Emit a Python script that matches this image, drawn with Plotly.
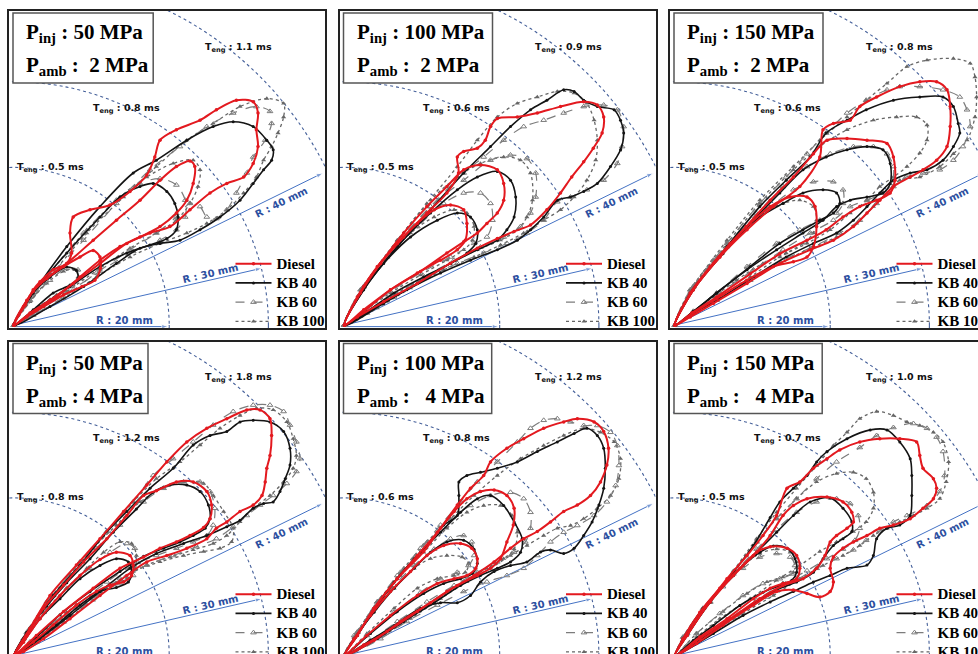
import plotly.graph_objects as go

# ---------------- data (mm, nozzle at origin) ----------------
FUELS = ["Diesel", "KB 40", "KB 60", "KB 100"]
P_INJ = [50, 100, 150, 50, 100, 150]
P_AMB = [2, 2, 2, 4, 4, 4]
T_ENG = [[0.5, 0.8, 1.1], [0.5, 0.6, 0.9], [0.5, 0.6, 0.8],
         [0.8, 1.2, 1.8], [0.6, 0.8, 1.2], [0.5, 0.7, 1.0]]
R_MM = [20, 30, 40]

P1_DIESEL = [
    [[0,0],[1.2,2.3],[2.4,4.2],[4.1,5.8],[6.2,7.3],[8.25,8.5],[9.9,9.3],[10.75,8.5],[10.8,7.1],[10.1,5.6],[8.5,4.8],[6.2,3.75],[3.7,2.3],[1.6,1.0]],
    [[0,0],[1.6,3.1],[3.25,5.2],[6.6,7.7],[9.9,10.6],[12.8,13.1],[15.75,15.6],[18.25,18.1],[20.3,19.8],[22.0,20.5],[22.6,19.8],[22.4,17.7],[21.6,15.6],[20.3,14.0],[18.25,12.3],[15.75,11.0],[13.25,9.8],[10.75,8.1],[8.25,6.0],[5.3,3.5],[2.4,1.7]],
    [[0,0],[1.4,2.5],[2.4,4.4],[3.25,5.4],[4.9,6.9],[6.6,7.7],[7.2,9.0],[7.0,11.5],[7.4,13.5],[9.5,14.4],[12.0,15.0],[14.5,16.7],[16.6,18.75],[17.6,21.0],[18.25,23.1],[20.3,24.4],[23.25,25.6],[25.3,26.9],[27.8,28.1],[29.9,27.9],[30.5,26.5],[30.3,24.4],[30.5,22.3],[29.9,20.2],[28.7,18.5],[26.6,17.7],[24.5,16.5],[22.0,14.4],[19.5,12.3],[17.0,11.5],[14.1,10.2],[10.75,7.7],[7.4,5.2],[4.5,3.1],[2.0,1.5]],
]
P1_KB40 = [
    [[0,0],[2.0,3.6],[4.5,6.0],[6.6,7.25],[7.8,6.8],[8.0,5.8],[7.0,5.0],[4.9,4.0],[2.4,1.9]],
    [[0,0],[2.4,4.0],[6.6,9.0],[10.75,13.5],[13.25,16.0],[15.75,17.3],[17.4,17.7],[19.1,16.7],[20.1,15.2],[20.5,13.5],[20.3,11.9],[19.1,10.8],[17.0,10.0],[14.1,9.0],[10.75,7.3],[7.0,4.8],[3.25,2.3]],
    [[0,0],[3.25,5.2],[6.6,9.8],[10.75,14.8],[14.9,19.0],[17.8,20.6],[21.6,23.1],[24.9,24.8],[27.4,25.4],[29.9,24.8],[31.6,23.1],[32.4,21.9],[32.2,20.6],[31.2,19.4],[29.9,17.7],[28.25,15.6],[25.75,13.5],[23.25,11.9],[20.75,10.6],[18.25,10.2],[15.75,9.6],[12.8,7.7],[8.7,4.8],[4.5,2.3]],
]
P1_KB60 = [
    [[0,0],[2.0,3.1],[4.5,5.6],[6.6,7.1],[8.0,6.9],[8.25,5.8],[7.2,4.8],[4.5,3.1],[2.2,1.5]],
    [[0,0],[4.1,6.0],[8.7,11.5],[12.8,15.6],[15.75,17.7],[18.25,18.3],[20.3,17.5],[21.4,15.6],[21.4,13.5],[20.3,11.9],[18.25,10.6],[14.9,9.2],[10.75,6.7],[6.6,4.0],[2.8,1.7]],
    [[0,0],[3.7,5.2],[8.7,10.6],[12.8,15.2],[17.0,19.4],[20.75,22.3],[24.1,24.8],[27.4,26.5],[30.3,27.3],[32.0,26.7],[32.2,25.2],[31.4,23.1],[29.9,21.0],[29.1,19.0],[27.8,16.5],[26.6,14.4],[25.3,13.3],[24.1,13.5],[23.25,14.8],[22.0,15.2],[20.3,13.5],[17.8,11.5],[14.5,9.4],[10.3,6.5],[6.2,3.5],[2.4,1.25]],
]
P1_KB100 = [
    [[0,0],[2.0,2.9],[4.1,5.2],[6.2,6.7],[7.6,6.9],[8.0,6.0],[7.4,5.0],[5.3,3.75],[2.8,2.1]],
    [[0,0],[4.5,6.5],[9.1,11.9],[13.25,16.0],[16.6,18.5],[19.9,20.2],[22.4,20.6],[23.25,19.4],[23.0,17.3],[22.0,15.2],[20.3,13.1],[17.8,11.5],[14.5,9.6],[10.75,7.1],[6.6,4.2],[2.8,1.7]],
    [[0,0],[4.5,6.0],[9.1,11.5],[13.7,16.0],[17.8,19.8],[21.6,23.1],[24.9,25.2],[28.25,27.3],[31.6,28.3],[33.7,27.7],[33.7,26.0],[33.0,24.0],[32.2,22.3],[31.2,20.6],[30.3,18.5],[28.7,16.5],[26.6,14.4],[24.1,12.7],[21.6,11.5],[18.25,10.2],[14.5,8.5],[10.3,6.0],[6.2,3.3],[2.4,1.25]],
]

P2_DIESEL = [
    [[0,0],[1.6,3.5],[4.1,7.3],[6.6,10.2],[9.1,12.7],[11.2,14.4],[13.25,15.0],[14.9,14.4],[15.3,12.7],[15.1,10.6],[14.1,9.4],[12.0,8.1],[9.1,6.5],[5.75,4.4],[2.4,1.7]],
    [[0,0],[2.0,4.0],[4.5,7.7],[7.4,11.5],[10.3,14.8],[12.8,17.3],[14.9,19.4],[17.0,20.0],[19.1,19.4],[19.9,17.7],[19.9,15.6],[19.1,14.0],[17.8,12.7],[16.6,11.5],[14.9,10.4],[12.8,9.0],[9.5,6.7],[5.75,4.4],[2.4,1.9]],
    [[0,0],[2.4,4.8],[4.5,7.7],[7.4,11.0],[10.3,14.0],[12.8,16.5],[14.25,19.0],[14.1,21.0],[14.9,21.7],[16.6,22.1],[17.6,23.1],[18.25,24.8],[19.1,25.8],[21.6,26.0],[24.1,26.5],[27.0,27.3],[29.9,27.9],[31.6,27.5],[32.4,26.0],[32.2,24.0],[31.1,22.1],[29.9,20.4],[28.4,18.5],[27.0,16.5],[25.3,14.4],[23.25,12.5],[21.2,11.7],[19.1,10.8],[16.6,9.6],[13.2,7.7],[9.1,5.2],[4.9,2.9],[1.6,1.0]],
]
P2_KB40 = [
    [[0,0],[2.0,4.0],[4.9,7.7],[8.25,11.0],[11.6,13.1],[14.1,14.0],[15.75,13.5],[16.6,11.9],[16.4,10.2],[15.3,9.0],[13.25,7.7],[9.9,6.0],[6.2,4.0],[2.8,1.7]],
    [[0,0],[2.4,4.4],[6.6,9.8],[10.75,14.0],[14.1,16.9],[16.6,18.5],[19.1,19.2],[20.75,18.1],[21.4,16.0],[21.2,13.5],[20.3,11.9],[19.1,10.6],[16.6,9.4],[13.25,7.7],[9.1,5.2],[4.9,2.7]],
    [[0,0],[2.4,4.4],[6.6,9.8],[10.75,14.4],[14.9,19.0],[18.25,22.3],[20.75,24.8],[23.25,26.9],[25.3,28.1],[27.4,29.4],[28.7,29.2],[29.9,28.1],[31.6,27.3],[33.7,26.9],[34.5,25.6],[34.9,24.0],[34.5,21.9],[33.25,19.8],[31.6,17.7],[29.9,16.7],[28.25,16.0],[26.6,15.6],[24.9,13.5],[23.25,11.9],[21.6,10.6],[19.1,9.4],[15.75,8.1],[12.0,6.5],[7.8,4.4],[3.7,2.1]],
]
P2_KB60 = [
    [[0,0],[2.0,4.4],[5.3,8.5],[9.1,12.3],[12.4,15.2],[14.9,16.5],[17.0,16.5],[18.25,15.2],[18.5,13.1],[17.8,11.0],[16.2,10.2],[13.25,8.5],[9.5,6.5],[5.75,4.2],[2.4,1.7]],
    [[0,0],[2.4,4.8],[6.6,10.2],[10.75,14.8],[14.9,18.1],[18.25,20.6],[20.75,21.25],[22.8,20.8],[23.9,19.0],[23.9,16.0],[23.25,14.0],[22.0,12.3],[19.9,11.0],[17.0,9.75],[13.7,8.1],[10.0,6.0],[5.75,3.5],[2.4,1.5]],
    [[0,0],[2.4,4.8],[6.6,10.2],[10.75,14.8],[14.9,19.0],[17.4,21.0],[19.9,23.1],[22.4,24.8],[24.9,25.6],[27.4,26.5],[29.9,27.3],[32.4,27.5],[34.1,26.9],[34.9,24.8],[34.7,22.3],[34.1,20.2],[32.4,18.1],[30.3,16.9],[28.25,16.0],[26.6,15.4],[24.9,13.1],[22.8,11.5],[20.3,10.2],[17.4,9.0],[14.1,7.7],[10.3,6.0],[6.2,3.5],[2.8,1.5]],
]
P2_KB100 = [
    [[0,0],[2.0,4.4],[4.9,8.1],[8.25,11.5],[11.2,13.5],[13.7,14.4],[15.3,14.0],[16.2,12.3],[16.0,10.6],[14.9,9.4],[12.8,8.1],[9.5,6.25],[5.75,4.0],[2.4,1.7]],
    [[0,0],[2.4,4.8],[6.6,10.6],[10.75,15.6],[14.1,18.5],[17.0,20.2],[19.9,21.0],[22.0,20.6],[23.25,19.0],[23.5,15.6],[22.8,13.5],[21.6,11.9],[19.5,10.6],[16.6,9.4],[13.25,7.7],[9.5,5.6],[5.3,3.3],[2.4,1.5]],
    [[0,0],[2.4,4.8],[6.6,10.6],[10.3,15.2],[14.1,19.8],[16.6,23.1],[19.1,26.0],[21.6,27.7],[24.1,28.5],[26.6,29.2],[28.7,29.0],[30.3,27.7],[31.2,25.6],[31.6,23.1],[31.4,20.6],[30.3,18.1],[28.7,16.0],[27.0,14.4],[24.9,13.1],[22.4,11.5],[19.5,10.0],[16.2,8.5],[12.4,6.9],[8.25,4.6],[4.1,2.1]],
]

P3_DIESEL = [
    [[0,0],[1.9,4.0],[4.4,7.3],[6.9,10.2],[9.4,12.7],[11.9,14.8],[14.4,16.0],[16.5,16.0],[17.5,14.8],[17.7,12.3],[17.3,9.75],[16.5,8.5],[14.8,7.9],[12.3,7.3],[9.0,5.6],[5.2,3.3],[2.3,1.5]],
    [[0,0],[2.3,4.4],[5.6,8.5],[8.9,12.3],[11.9,15.6],[14.8,18.5],[17.3,21.4],[19.0,23.1],[21.5,23.3],[24.0,23.1],[26.5,22.7],[27.3,21.0],[27.5,18.1],[26.9,16.5],[25.2,15.6],[23.1,14.8],[21.0,13.5],[18.9,11.9],[16.5,10.6],[13.1,8.9],[9.4,6.4],[5.2,3.5],[2.1,1.5]],
    [[0,0],[2.3,4.4],[5.6,8.5],[9.0,11.9],[12.3,14.8],[15.6,17.3],[18.1,21.0],[18.5,24.4],[19.8,25.2],[21.9,25.6],[23.1,27.3],[25.2,28.5],[28.1,29.8],[30.6,30.4],[32.7,30.4],[34.0,29.4],[34.4,27.3],[34.4,24.8],[34.0,22.3],[32.7,20.6],[31.0,19.4],[29.4,18.5],[27.3,17.3],[25.6,15.6],[24.0,14.0],[22.3,12.3],[19.8,10.6],[16.9,9.4],[13.1,7.7],[9.0,5.2],[4.8,2.7],[1.9,1.0]],
]
P3_KB40 = [
    [[0,0],[1.9,4.0],[4.8,7.7],[7.7,11.0],[10.6,13.5],[13.5,15.2],[16.0,16.5],[18.5,16.9],[20.2,16.5],[20.6,15.2],[19.8,14.0],[18.1,13.1],[16.0,11.9],[13.1,10.2],[9.4,7.3],[5.2,4.0],[2.3,1.7]],
    [[0,0],[2.3,4.4],[6.0,8.9],[9.8,13.1],[13.1,16.5],[16.0,19.4],[18.9,21.0],[21.5,21.9],[24.0,22.3],[26.0,21.9],[26.9,20.2],[26.9,17.7],[26.0,16.5],[24.0,16.0],[21.9,15.6],[20.2,14.8],[18.5,13.1],[16.0,11.5],[12.7,9.4],[9.0,6.9],[5.2,4.0],[2.3,1.7]],
    [[0,0],[2.3,4.4],[6.5,9.8],[10.6,14.8],[13.9,18.1],[16.9,21.0],[18.9,24.0],[21.5,25.6],[23.9,26.9],[27.3,28.1],[30.6,28.5],[33.5,28.5],[34.8,27.3],[35.4,25.2],[35.6,24.0],[34.8,22.3],[33.5,20.6],[31.5,19.4],[29.4,19.0],[27.3,18.1],[25.6,16.5],[24.0,14.8],[22.3,13.1],[20.2,11.5],[17.3,10.2],[13.9,8.5],[9.8,6.0],[5.6,3.3],[2.3,1.5]],
]
P3_KB60 = [
    [[0,0],[1.9,4.4],[4.8,8.1],[8.1,11.5],[11.5,14.4],[14.8,16.9],[17.3,17.9],[19.8,17.9],[21.0,16.9],[21.0,15.2],[20.2,14.0],[18.1,13.1],[15.6,11.9],[12.7,10.2],[9.0,7.3],[5.2,4.0],[2.3,1.7]],
    [[0,0],[2.3,4.8],[6.5,9.8],[10.2,13.9],[13.5,17.3],[16.5,19.8],[19.4,21.4],[22.3,22.3],[24.8,22.3],[26.5,21.4],[27.3,19.8],[27.1,17.7],[26.0,16.5],[24.0,15.6],[21.9,14.8],[19.8,13.1],[16.9,11.5],[13.5,9.4],[9.8,6.9],[5.6,4.0],[2.3,1.7]],
    [[0,0],[2.3,4.8],[6.5,10.2],[10.6,15.2],[13.9,18.5],[16.5,21.4],[18.9,24.0],[21.5,26.5],[23.9,28.1],[26.5,29.4],[28.1,29.8],[30.6,29.8],[33.5,29.4],[35.6,28.5],[36.5,26.9],[36.9,24.8],[36.0,22.3],[34.8,20.6],[33.1,19.4],[31.0,19.0],[28.9,18.5],[27.3,17.3],[25.2,15.2],[23.1,13.1],[20.6,11.5],[17.3,9.8],[13.5,8.1],[9.4,5.6],[5.2,3.1],[2.3,1.5]],
]
P3_KB100 = [
    [[0,0],[1.9,4.4],[4.8,8.1],[8.1,11.5],[11.0,14.0],[13.5,15.2],[15.6,15.6],[17.3,14.8],[17.7,13.1],[17.3,11.5],[16.0,10.2],[13.9,9.0],[11.0,7.7],[7.7,5.6],[4.8,3.5],[2.3,1.7]],
    [[0,0],[2.3,4.8],[6.5,10.2],[10.6,15.2],[14.8,19.4],[18.1,22.3],[21.5,24.4],[24.8,25.6],[27.7,26.0],[30.2,26.0],[31.5,25.0],[31.5,23.1],[30.6,21.5],[29.0,19.8],[27.3,18.5],[25.6,17.3],[24.0,15.6],[21.9,14.0],[19.4,11.9],[16.5,10.2],[13.1,8.5],[9.4,6.0],[5.6,3.5],[2.3,1.5]],
    [[0,0],[2.3,4.8],[6.5,10.6],[10.6,15.6],[14.8,19.8],[18.1,23.1],[21.5,26.0],[23.9,28.1],[26.5,30.2],[29.0,32.3],[31.5,33.1],[34.8,33.3],[36.9,32.7],[37.5,31.0],[37.7,28.5],[37.5,26.0],[36.5,23.1],[34.8,21.4],[33.1,19.8],[30.6,18.5],[28.1,18.1],[26.5,16.5],[24.8,14.8],[22.7,12.7],[20.2,11.0],[16.9,9.6],[13.1,7.7],[9.0,5.4],[5.2,3.1],[2.3,1.5]],
]

P4_DIESEL = [
    [[0,0],[1.2,1.7],[3.25,4.6],[5.75,7.5],[8.25,10.0],[10.75,12.0],[12.8,12.9],[14.5,12.5],[14.9,11.3],[14.7,10.0],[13.7,9.2],[12.0,8.8],[10.3,8.0],[7.8,6.3],[4.9,3.8],[2.4,1.7]],
    [[0,0],[1.6,2.5],[3.7,5.9],[6.2,8.8],[8.7,11.7],[11.6,14.6],[14.1,17.5],[16.2,20.0],[17.8,20.6],[20.3,21.7],[22.4,21.7],[24.1,20.5],[24.7,18.8],[24.5,17.1],[23.7,16.0],[22.0,15.0],[20.3,14.2],[18.25,13.4],[16.2,12.3],[13.25,10.9],[9.9,8.4],[6.2,5.5],[2.8,2.5]],
    [[0,0],[2.0,3.4],[4.5,7.5],[7.8,11.3],[10.75,14.6],[13.7,18.0],[16.6,21.3],[19.1,24.2],[21.6,26.7],[24.1,28.4],[26.6,29.6],[29.1,30.7],[30.75,30.7],[32.0,29.6],[32.2,27.5],[32.0,25.0],[31.6,23.4],[31.4,21.7],[31.0,20.0],[29.9,18.8],[28.25,18.0],[26.6,16.7],[25.3,15.9],[24.1,14.6],[21.6,13.4],[19.1,12.5],[16.6,11.7],[14.1,10.0],[10.75,7.5],[7.0,4.6],[3.7,2.1],[1.2,0.5]],
]
P4_KB40 = [
    [[0,0],[1.2,1.7],[3.25,4.6],[5.75,7.1],[8.25,9.6],[10.75,11.25],[12.8,12.1],[14.3,11.7],[14.7,10.4],[14.3,9.2],[12.8,8.5],[10.75,8.0],[8.25,6.3],[5.3,3.8],[2.4,1.7]],
    [[0,0],[1.6,2.9],[4.1,6.2],[6.6,9.1],[9.5,12.1],[12.4,15.4],[15.3,18.3],[17.4,20.4],[19.5,21.3],[21.6,21.3],[23.25,20.5],[24.3,18.8],[24.5,17.1],[23.9,15.9],[22.4,15.0],[20.75,14.2],[18.7,13.4],[16.2,12.4],[13.25,10.5],[9.5,8.0],[5.75,5.1],[2.8,2.3]],
    [[0,0],[2.0,3.4],[4.9,7.5],[8.25,11.3],[11.2,15.0],[14.1,18.0],[17.0,20.9],[19.9,23.4],[22.4,26.3],[24.5,27.5],[26.6,28.0],[28.25,29.2],[29.9,29.4],[32.0,29.2],[33.7,28.0],[34.5,25.9],[34.5,23.8],[33.9,22.1],[33.25,20.5],[32.4,19.2],[31.2,19.0],[29.9,18.4],[28.25,16.9],[26.6,16.1],[24.1,15.0],[21.2,14.0],[17.8,12.75],[14.5,10.9],[10.75,8.0],[7.0,5.0],[3.25,2.1]],
]
P4_KB60 = [
    [[0,0],[1.2,2.1],[3.7,5.4],[6.6,8.4],[9.5,10.9],[12.0,12.9],[14.1,14.0],[15.1,13.4],[15.3,11.7],[14.9,10.0],[13.25,9.0],[10.75,8.0],[7.8,5.9],[4.9,3.75],[2.4,1.7]],
    [[0,0],[1.6,2.9],[4.1,6.7],[7.0,10.0],[10.3,13.4],[13.25,16.3],[16.2,19.2],[18.7,20.9],[21.2,21.7],[23.25,21.7],[24.5,20.5],[25.1,18.4],[24.9,16.3],[24.1,15.0],[22.4,14.2],[20.3,13.4],[17.8,12.5],[14.9,11.3],[11.6,9.2],[7.8,6.25],[4.5,3.75],[2.0,1.7]],
    [[0,0],[2.0,3.4],[4.9,7.5],[8.25,11.7],[11.6,15.5],[14.9,19.2],[17.4,22.5],[19.9,24.6],[22.4,26.7],[24.9,28.8],[27.4,30.5],[29.9,31.3],[32.0,31.3],[33.7,30.5],[34.5,28.8],[35.3,26.7],[35.75,24.6],[35.3,23.0],[34.1,21.5],[32.4,20.0],[30.75,18.8],[29.1,17.5],[27.4,16.1],[25.3,14.6],[22.8,13.6],[19.9,12.5],[16.6,11.3],[13.25,9.6],[9.9,7.1],[6.2,4.2],[2.8,1.7]],
]
P4_KB100 = [
    [[0,0],[1.2,2.1],[3.7,5.4],[6.6,8.4],[9.1,10.9],[11.2,12.9],[13.25,14.2],[14.7,14.0],[15.3,12.5],[15.1,10.9],[14.1,9.6],[12.0,8.75],[9.5,7.5],[6.6,5.4],[4.1,3.4],[2.0,1.5]],
    [[0,0],[1.6,2.9],[4.1,6.7],[7.0,10.0],[9.9,13.4],[12.8,16.3],[15.75,19.2],[18.7,21.0],[21.2,21.7],[23.7,21.5],[24.9,20.0],[26.2,18.0],[27.4,15.9],[27.2,14.2],[25.75,13.4],[23.7,13.0],[21.2,12.5],[18.25,11.7],[14.9,10.5],[11.6,8.4],[7.8,5.9],[4.5,3.4],[2.0,1.5]],
    [[0,0],[2.0,3.4],[4.9,7.5],[8.25,11.7],[11.6,15.5],[14.9,19.2],[17.8,22.1],[20.75,24.2],[23.25,26.3],[25.75,28.4],[28.25,30.0],[30.3,30.9],[32.4,30.7],[34.1,29.2],[34.9,27.1],[35.3,25.0],[34.9,23.4],[33.7,21.7],[32.0,20.0],[29.9,18.4],[28.25,16.7],[26.6,15.0],[24.9,14.0],[22.4,13.2],[19.5,12.3],[16.6,11.3],[13.25,9.4],[9.9,6.9],[6.2,4.2],[2.8,1.7]],
]

P5_DIESEL = [
    [[0,0],[1.2,2.1],[3.25,5.0],[5.75,8.0],[8.25,10.5],[10.3,12.5],[12.4,13.75],[14.5,14.0],[15.9,13.4],[16.6,12.1],[16.4,10.9],[15.3,10.0],[13.7,9.6],[11.6,9.0],[9.1,7.5],[5.75,5.0],[2.8,2.5]],
    [[0,0],[1.6,2.5],[3.7,5.9],[6.6,9.6],[9.1,12.5],[11.6,15.4],[13.7,18.0],[15.3,19.6],[17.0,20.5],[18.7,20.7],[20.3,20.0],[21.2,18.4],[21.1,16.3],[20.3,14.2],[19.5,12.1],[18.25,10.9],[16.6,10.0],[14.1,8.75],[10.75,6.6],[7.0,4.25],[3.7,1.9]],
    [[0,0],[1.6,2.5],[3.7,5.9],[6.6,9.6],[9.9,13.0],[12.0,15.9],[14.1,18.8],[15.75,20.9],[17.4,22.5],[18.25,24.2],[20.3,25.9],[22.4,27.1],[24.9,28.4],[27.4,29.2],[29.1,29.6],[31.2,29.2],[32.4,28.0],[33.0,25.9],[32.8,23.8],[32.0,21.7],[30.75,20.0],[29.1,18.8],[27.4,18.0],[25.75,16.7],[24.1,15.5],[22.4,14.6],[20.75,13.4],[18.7,11.7],[16.2,10.0],[12.8,8.0],[9.1,5.5],[5.3,3.0],[2.4,1.3]],
]
P5_KB40 = [
    [[0,0],[1.2,2.1],[3.7,5.4],[6.2,8.4],[8.7,10.9],[10.75,12.9],[12.8,14.2],[14.9,14.4],[16.2,13.25],[16.6,11.5],[16.0,10.25],[14.5,9.6],[12.4,9.0],[9.9,7.75],[6.6,5.5],[3.25,2.75]],
    [[0,0],[1.6,2.5],[4.1,6.25],[6.6,9.6],[9.5,12.9],[12.0,15.4],[14.5,17.9],[16.6,19.6],[18.25,20.0],[19.9,18.75],[21.2,16.7],[22.2,14.6],[22.0,12.9],[20.75,11.7],[19.1,10.9],[17.0,10.0],[14.5,8.75],[11.2,6.6],[7.4,4.25],[4.1,2.1]],
    [[0,0],[1.6,2.5],[3.7,5.9],[6.2,9.2],[8.7,12.1],[10.75,14.2],[12.4,16.3],[14.1,17.5],[14.3,20.0],[14.3,21.7],[15.3,22.5],[17.0,22.9],[19.1,23.4],[21.6,24.2],[24.1,25.5],[26.6,26.7],[28.7,27.75],[30.3,28.4],[31.6,27.5],[32.4,25.9],[32.6,23.4],[32.4,20.9],[31.8,18.8],[30.95,16.7],[29.9,15.0],[28.7,13.4],[27.4,12.75],[25.75,13.2],[24.5,12.95],[22.8,11.7],[20.75,11.25],[18.7,10.5],[17.0,9.2],[15.75,7.5],[14.1,6.6],[12.0,6.6],[9.5,5.9],[6.2,3.75],[3.25,1.9]],
]
P5_KB60 = [
    [[0,0],[1.2,2.5],[3.7,5.9],[6.2,8.75],[8.7,11.25],[11.2,13.3],[13.25,14.6],[14.9,15.0],[15.9,14.2],[16.2,12.5],[15.5,11.25],[14.1,10.4],[12.0,9.6],[9.5,7.9],[6.2,5.4],[2.8,2.5]],
    [[0,0],[1.6,2.9],[4.1,6.7],[7.0,10.4],[9.9,13.75],[12.8,16.7],[15.75,18.75],[18.25,20.0],[20.75,20.4],[22.4,19.6],[23.25,17.9],[23.25,15.9],[22.6,14.2],[21.2,12.9],[19.1,11.7],[16.6,10.4],[13.7,8.75],[10.3,6.7],[6.6,4.25],[3.25,1.9]],
    [[0,0],[1.6,2.9],[4.1,6.7],[6.6,10.0],[9.5,13.4],[12.0,16.3],[14.5,19.2],[16.6,21.7],[19.1,24.2],[21.6,26.7],[23.25,28.4],[24.9,29.4],[26.6,29.6],[28.25,29.2],[29.9,28.75],[31.6,28.75],[33.25,27.9],[34.1,26.25],[34.3,23.75],[33.9,21.25],[32.8,19.2],[31.2,17.5],[29.1,16.25],[27.4,15.4],[25.75,14.2],[24.1,12.5],[22.4,10.9],[20.3,10.0],[17.8,9.2],[14.9,8.0],[11.6,6.3],[7.8,4.25],[4.5,2.1]],
]
P5_KB100 = [
    [[0,0],[1.2,2.3],[3.7,5.9],[6.2,8.4],[8.7,10.9],[10.75,12.1],[12.8,12.5],[14.7,12.3],[15.5,11.5],[15.1,10.4],[13.7,10.0],[11.6,9.6],[9.1,8.4],[6.2,5.9],[2.8,2.75]],
    [[0,0],[1.6,2.9],[4.1,6.7],[7.0,10.0],[9.9,12.9],[12.8,15.9],[15.3,17.9],[17.4,18.75],[19.5,18.75],[20.95,17.5],[21.6,15.4],[21.2,13.3],[19.9,12.1],[17.8,10.9],[14.9,9.2],[11.6,7.1],[7.8,4.6],[4.1,2.3]],
    [[0,0],[1.6,2.9],[4.5,7.1],[7.4,10.9],[10.3,14.2],[13.25,17.1],[16.2,20.0],[19.1,22.5],[22.0,24.6],[24.9,26.25],[27.4,27.5],[29.9,28.4],[32.0,27.9],[33.7,26.7],[34.5,24.6],[34.3,22.1],[33.25,20.0],[31.6,18.4],[29.9,17.1],[28.25,16.25],[26.6,15.9],[24.9,15.0],[22.8,13.75],[20.75,12.5],[18.25,10.9],[15.3,9.2],[12.0,7.1],[8.25,4.6],[4.5,2.3]],
]

P6_DIESEL = [
    [[0,0],[1.0,2.1],[3.1,5.4],[5.6,8.4],[8.1,10.9],[10.2,12.9],[11.9,13.6],[14.0,13.4],[15.2,12.5],[15.6,10.9],[15.2,9.6],[13.5,9.0],[11.9,8.4],[9.8,7.1],[6.5,4.6],[3.1,2.3]],
    [[0,0],[1.5,2.5],[4.4,6.7],[7.3,10.0],[9.8,12.5],[11.9,15.0],[13.5,17.5],[14.8,18.75],[16.5,19.6],[19.0,19.8],[21.0,19.2],[22.1,17.9],[22.3,16.7],[21.5,15.9],[20.2,15.0],[19.4,14.2],[18.75,12.5],[17.7,10.9],[16.0,9.6],[13.5,8.75],[10.6,7.1],[6.9,4.6],[3.1,2.1]],
    [[0,0],[1.5,2.5],[4.0,6.3],[6.5,9.6],[9.0,12.5],[11.0,15.0],[12.7,17.5],[14.0,20.9],[15.6,21.7],[17.3,23.4],[19.0,24.6],[20.6,25.7],[23.1,26.7],[25.6,27.1],[28.1,27.1],[30.2,26.7],[30.6,25.0],[31.0,23.4],[32.3,22.1],[32.7,20.9],[32.3,19.6],[31.0,18.4],[29.4,17.1],[27.3,16.3],[25.6,15.9],[24.0,15.0],[22.3,14.2],[21.0,13.4],[19.8,12.3],[19.4,10.9],[19.8,9.2],[19.4,8.0],[18.1,7.3],[16.5,7.75],[14.8,8.2],[12.7,8.0],[9.8,6.3],[6.0,3.8],[2.7,1.5]],
]
P6_KB40 = [
    [[0,0],[1.0,2.1],[3.5,5.9],[6.0,8.75],[8.5,11.25],[10.6,12.9],[12.3,13.7],[14.0,13.4],[15.0,12.1],[15.2,10.4],[14.6,9.4],[13.1,8.75],[11.0,7.9],[8.1,6.25],[4.8,3.75],[2.3,1.9]],
    [[0,0],[1.5,2.5],[4.4,6.7],[7.3,10.0],[10.2,12.9],[12.7,15.4],[14.8,17.5],[16.9,19.2],[19.4,19.7],[21.0,18.4],[22.1,16.7],[22.1,15.5],[21.0,14.6],[19.8,13.75],[18.5,12.1],[17.3,10.4],[15.2,9.2],[12.3,8.0],[9.0,5.9],[5.2,3.4],[2.3,1.5]],
    [[0,0],[1.5,2.5],[4.4,6.7],[7.3,10.4],[9.8,13.75],[11.9,17.25],[13.1,19.2],[14.8,20.9],[16.5,22.5],[17.7,24.2],[19.0,25.5],[21.5,27.1],[24.4,28.2],[26.5,28.2],[28.1,26.7],[29.4,24.6],[29.6,22.5],[29.6,20.0],[29.4,17.5],[28.1,16.3],[26.5,15.9],[25.2,14.6],[24.8,12.5],[24.0,11.3],[21.5,10.9],[19.4,10.0],[17.3,9.2],[14.8,8.0],[11.9,6.7],[8.5,5.0],[4.8,2.75]],
]
P6_KB60 = [
    [[0,0],[1.0,2.3],[3.5,5.9],[6.0,8.6],[8.5,10.9],[10.6,12.3],[12.7,12.75],[14.4,12.3],[15.0,11.25],[14.6,10.2],[13.1,9.6],[11.0,9.0],[8.5,7.5],[5.6,5.25],[2.7,2.75]],
    [[0,0],[1.5,2.75],[4.4,6.7],[7.3,10.2],[10.2,13.3],[12.7,15.75],[15.2,17.9],[17.7,19.2],[20.2,19.6],[21.9,19.0],[22.9,17.5],[23.1,15.9],[22.5,14.4],[21.0,13.3],[19.0,12.1],[16.5,10.6],[13.5,9.0],[10.2,6.9],[6.5,4.4],[3.1,2.1]],
    [[0,0],[1.5,2.75],[4.4,6.7],[7.3,10.4],[10.2,14.2],[12.7,17.1],[15.2,19.6],[17.7,22.1],[20.2,24.2],[23.1,26.0],[25.2,27.5],[27.3,28.5],[29.8,29.0],[31.5,28.4],[32.7,27.3],[33.5,25.5],[33.7,22.5],[33.1,20.5],[31.5,18.75],[29.0,17.5],[27.3,16.7],[25.6,15.6],[23.9,14.4],[22.3,13.2],[20.2,12.1],[17.7,10.9],[14.8,9.2],[11.5,7.3],[7.7,4.8],[3.9,2.5]],
]
P6_KB100 = [
    [[0,0],[1.0,2.3],[3.5,5.9],[6.0,8.75],[8.5,11.25],[10.6,12.75],[12.7,13.3],[14.4,12.9],[15.2,11.7],[14.8,10.4],[13.5,9.8],[11.5,9.2],[9.0,7.75],[6.0,5.5],[2.7,2.75]],
    [[0,0],[1.5,2.75],[4.4,6.7],[7.3,10.4],[10.2,14.2],[12.7,17.1],[15.2,19.6],[17.7,21.7],[20.2,22.75],[22.3,22.9],[23.9,22.1],[24.8,20.4],[24.8,18.4],[23.9,16.7],[22.3,15.5],[20.2,14.2],[18.1,13.0],[15.6,11.25],[12.7,9.4],[9.4,7.1],[5.6,4.6],[2.7,2.3]],
    [[0,0],[1.5,2.75],[4.4,6.7],[7.3,10.6],[10.2,14.6],[12.7,17.9],[15.2,20.9],[17.7,23.75],[19.8,26.25],[21.5,27.9],[23.1,29.6],[25.2,30.5],[27.3,30.0],[29.0,29.2],[30.6,28.75],[32.3,27.9],[33.5,26.7],[34.2,24.2],[33.9,21.7],[33.1,19.6],[31.5,18.4],[29.8,17.5],[28.1,16.7],[26.5,15.9],[24.8,15.0],[23.1,13.75],[21.0,12.5],[18.5,11.25],[15.6,9.6],[12.3,7.5],[8.5,5.25],[4.4,2.75]],
]

PANEL_DATA = [
    (P1_DIESEL, P1_KB40, P1_KB60, P1_KB100),
    (P2_DIESEL, P2_KB40, P2_KB60, P2_KB100),
    (P3_DIESEL, P3_KB40, P3_KB60, P3_KB100),
    (P4_DIESEL, P4_KB40, P4_KB60, P4_KB100),
    (P5_DIESEL, P5_KB40, P5_KB60, P5_KB100),
    (P6_DIESEL, P6_KB40, P6_KB60, P6_KB100),
]

# ---------------- layout / styling ----------------
W, H = 978, 654
PX = 8.0                      # px per mm
COL_LEFT = [9.0, 339.5, 670.0]
ROW_TOP = [11.0, 341.5]
PW, PH = 316.0, 317.0
NOZ_X, NOZ_Y = 5.0, 314.0

SERIF = "Liberation Serif"
LABEL_FONT = "DejaVu Sans"
BLUE = "#4472c4"
BLUE_TXT = "#2c4f9f"
ARC_COL = "#45609a"

STYLE = [
    dict(color="#e3191f", width=2.0, dash="solid", symbol="circle", msize=3.5),
    dict(color="#141414", width=1.6, dash="solid", symbol="circle", msize=3.0),
    dict(color="#7c7c7c", width=1.2, dash="dash", symbol="triangle-up-open", msize=5),
    dict(color="#666666", width=1.3, dash="dot", symbol="triangle-up", msize=4.5),
]

ARC_RX = [19.4, 31.8, 43.6]
ARC_RY = [19.7, 30.4, 43.8]
T_POS = [(0.1, 19.75), (9.6, 27.1), (23.6, 34.75)]
R_END = [(19.3, -0.2), (31.0, 7.1), (38.6, 19.0)]
R_TXT = [(13.75, 0.55, 0), (24.5, 6.4, -13), (33.4, 15.3, -26)]
BOX_W = [17.4, 18.5, 18.5, 16.75, 18.4, 18.4]
AMB_PAD = [1, 1, 1, 0, 2, 2]
LEG_FONT = 12.5    # controls legend row spacing
LEG_TXT = 15       # visible legend text size

fig = go.Figure()
shapes, annotations, lay = [], [], {}

for i in range(6):
    r, c = divmod(i, 3)
    L, T = COL_LEFT[c], ROW_TOP[r]
    Rr, B = min(L + PW, W), min(T + PH, H)
    x0 = -NOZ_X / PX
    x1 = x0 + (Rr - L) / PX
    y1 = NOZ_Y / PX
    y0 = y1 - (B - T) / PX
    sfx = "" if i == 0 else str(i + 1)
    xa, ya = "x" + sfx, "y" + sfx
    full_h = (T + PH) <= H
    full_w = (L + PW) <= W
    common = dict(showgrid=False, zeroline=False, showticklabels=False, ticks="",
                  showline=True, linecolor="#222222", linewidth=2, fixedrange=True)
    lay["xaxis" + sfx] = dict(domain=[L / W, Rr / W], range=[x0, x1], anchor=ya,
                              mirror=full_h, side="bottom" if full_h else "top", **common)
    lay["yaxis" + sfx] = dict(domain=[1 - B / H, 1 - T / H], range=[y0, y1], anchor=xa,
                              mirror=full_w, side="left", **common)

    # arcs
    for rx, ry in zip(ARC_RX, ARC_RY):
        shapes.append(dict(type="circle", xref=xa, yref=ya, x0=-rx, x1=rx, y0=-ry, y1=ry,
                           line=dict(color=ARC_COL, width=1.1, dash="dot"), layer="below"))
    # title box
    shapes.append(dict(type="rect", xref=xa, yref=ya, x0=-0.125, x1=BOX_W[i], y0=30.25, y1=39.0,
                       line=dict(color="#555555", width=1.5), fillcolor="white", layer="below"))
    annotations.append(dict(xref=xa, yref=ya, x=1.3, y=36.5, xanchor="left", yanchor="middle",
                            text=f"P<sub>inj</sub> : {P_INJ[i]} MPa", showarrow=False,
                            font=dict(family=SERIF, size=21, color="black", weight="bold")))
    annotations.append(dict(xref=xa, yref=ya, x=1.3, y=32.35, xanchor="left", yanchor="middle",
                            text=f"P<sub>amb</sub> :{chr(160) * (1 + AMB_PAD[i])}{P_AMB[i]} MPa",
                            showarrow=False,
                            font=dict(family=SERIF, size=21, color="black", weight="bold")))
    # T_eng labels
    for (tx, ty), t in zip(T_POS, T_ENG[i]):
        annotations.append(dict(xref=xa, yref=ya, x=tx, y=ty, xanchor="left", yanchor="middle",
                                text=f"T<sub>eng</sub> : {t} ms", showarrow=False,
                                font=dict(family=LABEL_FONT, size=9.5, color="#111111", weight="bold")))
    # R arrows + labels
    for (ex, ey), (lx, ly, ang), rmm in zip(R_END, R_TXT, R_MM):
        fig.add_trace(go.Scatter(x=[0, ex], y=[0 if ey >= 0 else ey, ey], xaxis=xa, yaxis=ya,
                                 mode="lines+markers", showlegend=False, hoverinfo="skip",
                                 line=dict(color=BLUE, width=1),
                                 marker=dict(symbol="arrow", size=[0, 7], angleref="previous",
                                             color=BLUE)))
        annotations.append(dict(xref=xa, yref=ya, x=lx, y=ly, text=f"R : {rmm} mm",
                                showarrow=False, textangle=ang,
                                font=dict(family=LABEL_FONT, size=10, color=BLUE_TXT, weight="bold")))

    # spray contours
    leg = "legend" if i == 0 else f"legend{i + 1}"
    for k in [3, 2, 1, 0]:
        st = STYLE[k]
        for j, cont in enumerate(PANEL_DATA[i][k]):
            xs = [p[0] for p in cont] + [cont[0][0]]
            ys = [p[1] for p in cont] + [cont[0][1]]
            fig.add_trace(go.Scatter(
                x=xs, y=ys, xaxis=xa, yaxis=ya, mode="lines+markers",
                name=f'<span style="font-size:{LEG_TXT}px">{FUELS[k]}</span>',
                legend=leg, legendgroup=f"p{i}f{k}", showlegend=(j == 0),
                legendrank=k + 1, hoverinfo="skip",
                line=dict(color=st["color"], width=st["width"], dash=st["dash"],
                          shape="spline", smoothing=0.9),
                marker=dict(symbol=st["symbol"], size=st["msize"], color=st["color"],
                            line=dict(width=1 if "open" in st["symbol"] else 0, color=st["color"]))))
    lay[leg] = dict(x=(L + 221.5) / W, y=1 - (T + 238) / H, xanchor="left", yanchor="top",
                    bgcolor="rgba(0,0,0,0)", tracegroupgap=0, itemclick=False, itemwidth=36,
                    font=dict(family=SERIF, size=LEG_FONT, color="black", weight="bold"))

fig.update_layout(width=W, height=H, margin=dict(l=0, r=0, t=0, b=0, autoexpand=False),
                  paper_bgcolor="white", plot_bgcolor="white", hovermode=False,
                  shapes=shapes, annotations=annotations, **lay)
fig.write_html("out.html")
